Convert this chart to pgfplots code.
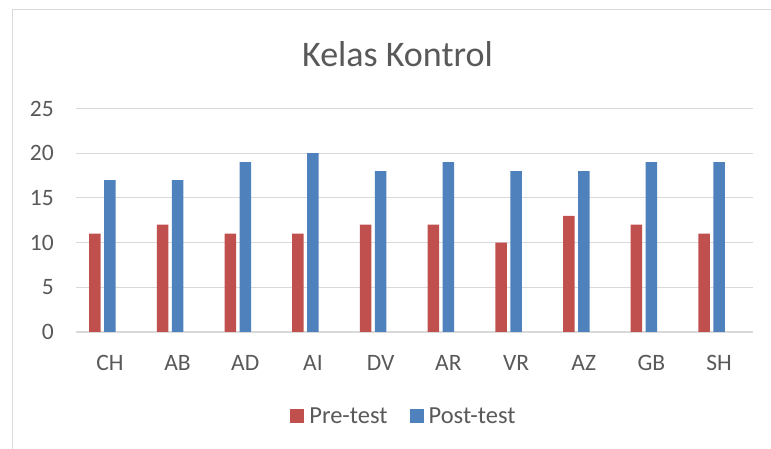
\documentclass[border=0pt]{standalone}
\usepackage{pgfplots}
\pgfplotsset{compat=1.18}
\usepackage{fontspec}
\setmainfont{Carlito}
\definecolor{cred}{HTML}{C0504D}
\definecolor{cblue}{HTML}{4F81BD}
\definecolor{ctext}{HTML}{595959}
\definecolor{cgrid}{HTML}{D9D9D9}
\begin{document}
\begin{tikzpicture}[x=1pt,y=1pt]
\useasboundingbox (0,0) rectangle (771,449);
\draw[cgrid, line width=1.3pt] (12.5,-20) rectangle (800,439.5);
\node[anchor=base, text=ctext, font=\fontsize{36}{42}\selectfont, inner sep=0pt] at (397.5,382.3) {Kelas Kontrol};
\begin{axis}[
  at={(76pt,117pt)}, anchor=south west,
  scale only axis, width=677pt, height=223.5pt,
  ybar, bar width=11.5pt,
  xmin=-0.5, xmax=9.5, ymin=0, ymax=25,
  xtick={0,...,9},
  xticklabels={CH,AB,AD,AI,DV,AR,VR,AZ,GB,SH},
  ytick={0,5,...,25},
  ymajorgrids, grid style={cgrid, line width=1.2pt},
  axis line style={draw=none},
  major tick length=0pt,
  tick label style={text=ctext, font=\fontsize{23.5}{27}\selectfont, inner sep=0pt},
  /pgf/number format/assume math mode=true,
  yticklabel style={anchor=east, xshift=-22pt},
  xticklabel style={anchor=center, yshift=-30.5pt},
  legend columns=2,
  legend style={at={(axis description cs:0.483,-0.376)}, anchor=center, draw=none, fill=none,
    font=\fontsize{24.5}{28}\selectfont, text=ctext,
    /tikz/column sep=0pt,
    /tikz/every even column/.append style={column sep=22pt},
    nodes={inner sep=0pt}},
  legend image code/.code={\fill[#1] (0pt,-7pt) rectangle (14pt,7pt); \path (19pt,0pt);},
]
\addplot[fill=cred, draw=none, bar shift=-15pt] coordinates {(0,11) (1,12) (2,11) (3,11) (4,12) (5,12) (6,10) (7,13) (8,12) (9,11)};
\addplot[fill=cblue, draw=none, bar shift=0pt] coordinates {(0,17) (1,17) (2,19) (3,20) (4,18) (5,19) (6,18) (7,18) (8,19) (9,19)};
\legend{Pre-test, Post-test}
\end{axis}
\end{tikzpicture}
\end{document}
